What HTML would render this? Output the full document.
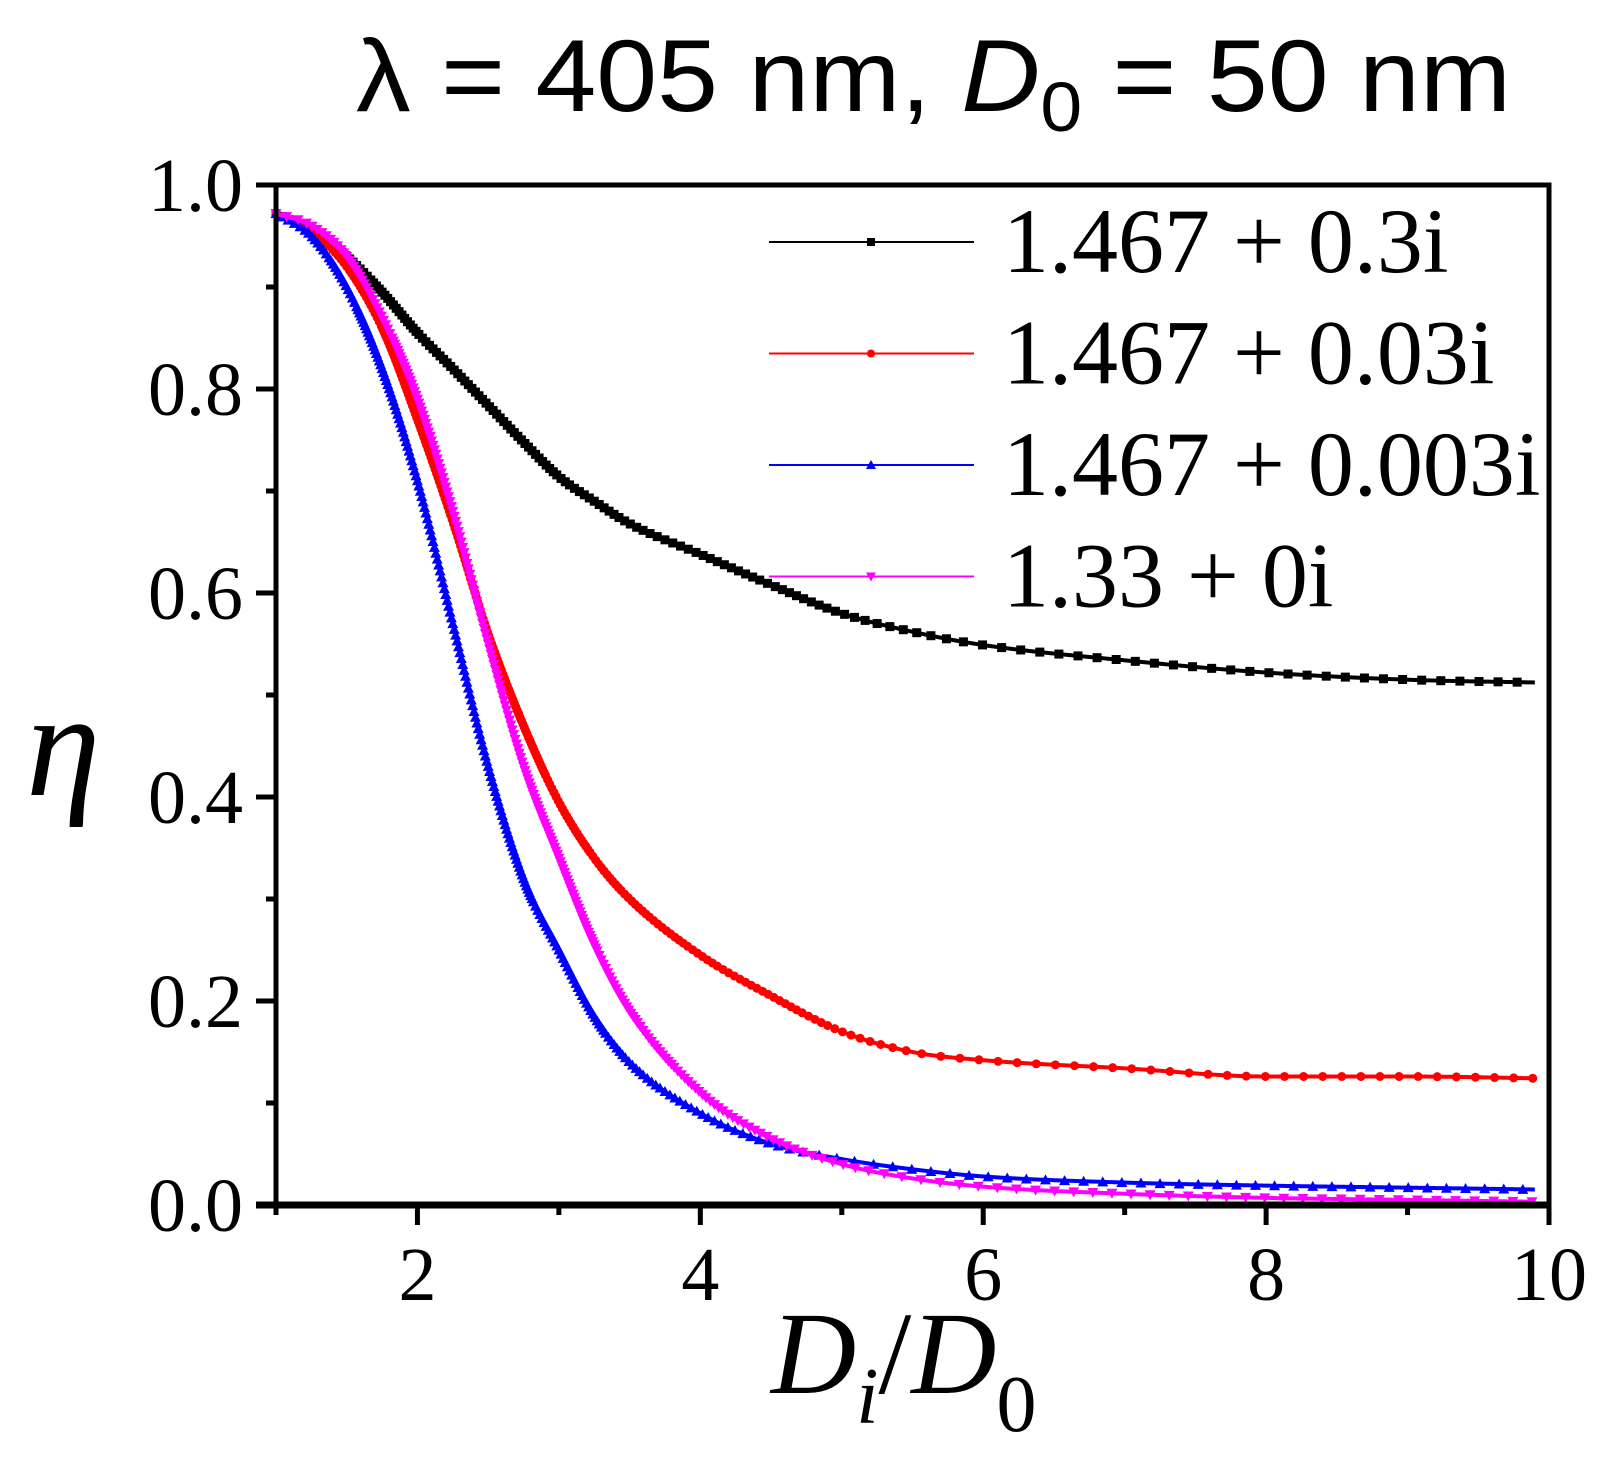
<!DOCTYPE html>
<html><head><meta charset="utf-8"><style>
html,body{margin:0;padding:0;background:#fff;}
svg{display:block;}
</style></head><body>
<svg id="chart" width="1610" height="1460" viewBox="0 0 1610 1460" xmlns="http://www.w3.org/2000/svg">
<text x="356" y="111" font-family="Liberation Sans, sans-serif" font-size="102" textLength="1155" lengthAdjust="spacingAndGlyphs">λ = 405 nm, <tspan font-style="italic">D</tspan><tspan font-size="70" dy="20">0</tspan><tspan dy="-20"> = 50 nm</tspan></text>
<g id="plot"></g>
<text x="26" y="795" font-family="Liberation Serif, serif" font-style="italic" font-size="150">η</text>
<text x="771" y="1393" font-family="Liberation Serif, serif" font-size="118"><tspan font-style="italic">D</tspan><tspan font-style="italic" font-size="80" dy="30">i</tspan><tspan dy="-30">/</tspan><tspan font-style="italic">D</tspan><tspan font-size="80" dy="38">0</tspan></text>
</svg>
<script>
const xCats = [1,1.25,1.5,1.75,2,2.25,2.5,2.75,3,3.25,3.5,4,4.5,5,5.5,6,7,8,9,10];
const black = [0.972,0.955,0.93,0.895,0.855,0.82,0.784,0.748,0.714,0.69,0.668,0.638,0.608,0.58,0.562,0.549,0.534,0.522,0.515,0.512];
const red = [0.972,0.955,0.92,0.86,0.77,0.67,0.56,0.47,0.395,0.34,0.30,0.245,0.205,0.17,0.15,0.142,0.134,0.126,0.126,0.124];
const blue = [0.972,0.95,0.90,0.82,0.71,0.57,0.43,0.32,0.25,0.185,0.14,0.09,0.06,0.045,0.035,0.028,0.022,0.019,0.017,0.015];
const magenta = [0.972,0.96,0.93,0.87,0.79,0.68,0.55,0.43,0.34,0.255,0.19,0.11,0.065,0.04,0.026,0.018,0.011,0.007,0.005,0.003];
const seriesNames = ["1.467 + 0.3i","1.467 + 0.03i","1.467 + 0.003i","1.33 + 0i"];
const xTickLabels = ["2","4","6","8","10"];
const yTickLabels = ["0.0","0.2","0.4","0.6","0.8","1.0"];

const NS="http://www.w3.org/2000/svg";
const L=276,R=1549,T=185,B=1205;
const X0=1,X1=10;
function sx(v){return L+(v-X0)/(X1-X0)*(R-L);}
function sy(v){return B-v*(B-T);}
const g=document.getElementById('plot');
function mk(tag,at,parent){const e=document.createElementNS(NS,tag);for(const k in at)e.setAttribute(k,at[k]);(parent||g).appendChild(e);return e;}

function interp(xs,ys,x){
  let i=0;while(i<xs.length-2&&x>xs[i+1])i++;
  const n=xs.length;const m=[];
  for(let k=0;k<n;k++){
    if(k===0)m.push((ys[1]-ys[0])/(xs[1]-xs[0]));
    else if(k===n-1)m.push((ys[n-1]-ys[n-2])/(xs[n-1]-xs[n-2]));
    else{const d0=(ys[k]-ys[k-1])/(xs[k]-xs[k-1]),d1=(ys[k+1]-ys[k])/(xs[k+1]-xs[k]);m.push(d0*d1<=0?0:(d0+d1)/2);}
  }
  const h=xs[i+1]-xs[i],t=(x-xs[i])/h;
  const h00=2*t*t*t-3*t*t+1,h10=t*t*t-2*t*t+t,h01=-2*t*t*t+3*t*t,h11=t*t*t-t*t;
  return h00*ys[i]+h10*h*m[i]+h01*ys[i+1]+h11*h*m[i+1];
}
function marker(type,x,y,color,parent,s){
  s=s||4.5;
  if(type==='sq')return mk('rect',{x:x-s,y:y-s,width:2*s,height:2*s,fill:color},parent);
  if(type==='ci')return mk('circle',{cx:x,cy:y,r:s,fill:color},parent);
  if(type==='up')return mk('polygon',{points:`${x},${y-s-1} ${x-s-1},${y+s} ${x+s+1},${y+s}`,fill:color},parent);
  return mk('polygon',{points:`${x},${y+s+1} ${x-s-1},${y-s} ${x+s+1},${y-s}`,fill:color},parent);
}
const series=[[black,'#000','sq'],[red,'#f00','ci'],[blue,'#00f','up'],[magenta,'#f0f','dn']];
series.forEach((s,si)=>{
  const sg=mk('g',{});
  
  
  const pts=[];
  for(let x=X0;x<=9.9+1e-9;x+=0.005){pts.push([sx(x),sy(interp(xCats,s[0],x))]);}
  const p=mk('polyline',{points:pts.map(q=>q.join(',')).join(' '),fill:'none',stroke:s[1],'stroke-width':4},sg);
  
  
  let last=pts[0];
  marker(s[2],last[0],last[1],s[1],sg);
  for(const q of pts){
    if(Math.abs(q[1]-last[1])>=3||Math.abs(q[0]-last[0])>=19){
      const m=marker(s[2],q[0],q[1],s[1],sg);
      
      
      last=q;
    }
  }
});
mk('rect',{x:L,y:T,width:R-L,height:B-T,fill:'none',stroke:'#000','stroke-width':5});
mk('line',{x1:L-20,y1:B,x2:R,y2:B,stroke:'#000','stroke-width':7});
mk('line',{x1:L-20,y1:T,x2:L,y2:T,stroke:'#000','stroke-width':5});
for(let k=0;k<=10;k++){
  const v=k/10,y=sy(v),len=k%2===0?20:10;
  mk('line',{x1:L-len,y1:y,x2:L,y2:y,stroke:'#000','stroke-width':5});
}
yTickLabels.forEach((t,i)=>{
  const e=mk('text',{x:L-33,y:sy(i*0.2)+26,'text-anchor':'end','font-family':'Liberation Serif, serif','font-size':76});
  e.textContent=t;
  
  
});
for(let v=1;v<=10;v++){
  const len=v%2===0?20:10;
  mk('line',{x1:sx(v),y1:B,x2:sx(v),y2:B+len,stroke:'#000','stroke-width':5});
}
xTickLabels.forEach((t,i)=>{
  const e=mk('text',{x:sx(2+2*i),y:1300,'text-anchor':'middle','font-family':'Liberation Serif, serif','font-size':76});
  e.textContent=t;
  
  
});
series.forEach((s,i)=>{
  const y=242+i*111.5;
  const lg=mk('g',{});
  
  
  mk('line',{x1:769,y1:y,x2:974,y2:y,stroke:s[1],'stroke-width':2},lg);
  marker(s[2],871,y,s[1],lg,4);
  const t=mk('text',{x:1003,y:y+30,'font-family':'Liberation Serif, serif','font-size':92},lg);
  t.textContent=seriesNames[i];
});
</script>
</body></html>
